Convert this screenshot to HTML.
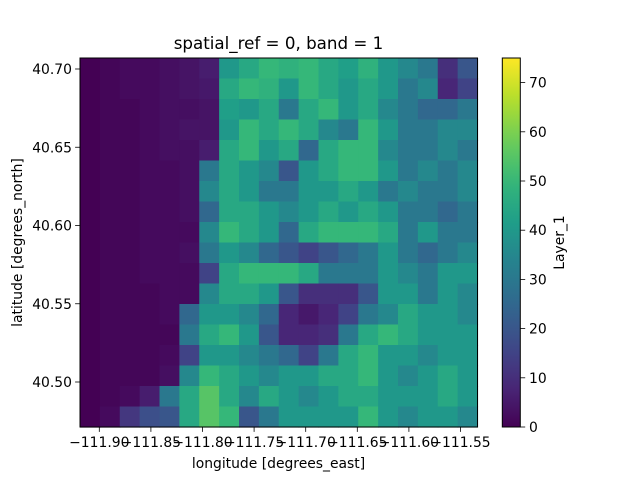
<!DOCTYPE html>
<html><head><meta charset="utf-8"><style>
body{margin:0;background:#fff;font-family:"Liberation Sans",sans-serif}
svg text{font-family:"DejaVu Sans","Liberation Sans",sans-serif;fill:#000}
</style></head><body>
<svg id="c" width="640" height="480" xmlns="http://www.w3.org/2000/svg">
<text x="278.5" y="49" font-size="16.7" text-anchor="middle">spatial_ref = 0, band = 1</text>
<g id="cells"></g>
<rect x="80" y="58" width="397.5" height="369" fill="none" stroke="#000" stroke-width="1"/>
<g id="ax"></g>
<text x="278.5" y="468" font-size="13.9" text-anchor="middle">longitude [degrees_east]</text>
<text transform="translate(22,242.5) rotate(-90)" font-size="13.9" text-anchor="middle">latitude [degrees_north]</text>
<defs><linearGradient id="vg" x1="0" y1="1" x2="0" y2="0"></linearGradient></defs>
<rect id="cbar" x="502.3" y="58" width="18" height="369" fill="url(#vg)" stroke="#000" stroke-width="1"/>
<g id="cb"></g>
<text transform="translate(564,242.5) rotate(-90)" font-size="13.9" text-anchor="middle">Layer_1</text>
</svg>
<script>
const xTicks=[-111.90,-111.85,-111.80,-111.75,-111.70,-111.65,-111.60,-111.55];
const xTickLabels=["\u2212111.90","\u2212111.85","\u2212111.80","\u2212111.75","\u2212111.70","\u2212111.65","\u2212111.60","\u2212111.55"];
const yTicks=[40.50,40.55,40.60,40.65,40.70];
const yTickLabels=["40.50","40.55","40.60","40.65","40.70"];
const cbTicks=[0,10,20,30,40,50,60,70];
const grid=[
[0,1,2,2,3,4,6,40,45,50,48,50,45,42,48,40,35,30,10,20],
[0,1,2,2,3,4,5,45,50,48,40,50,45,40,45,40,30,35,8,15],
[0,1,1,2,3,3,4,42,40,45,30,45,50,40,45,35,30,25,25,30],
[0,1,1,2,3,4,4,40,50,45,50,45,35,30,50,40,30,30,35,35],
[0,1,1,2,3,3,6,45,50,40,45,25,45,50,50,35,30,30,35,30],
[0,1,1,2,2,3,30,45,40,35,20,40,45,50,50,40,30,35,30,35],
[0,1,1,2,2,3,35,45,40,30,30,40,40,45,40,30,35,30,30,35],
[0,1,1,2,2,3,25,45,45,40,35,40,45,40,45,40,30,30,25,30],
[0,1,1,2,2,2,35,50,45,40,25,45,50,50,50,45,30,40,30,30],
[0,1,1,2,2,3,30,40,35,25,20,15,20,25,30,40,30,25,30,35],
[0,1,1,2,2,2,15,45,50,50,50,45,30,30,30,40,35,30,40,40],
[0,1,1,1,2,2,35,45,45,40,20,10,10,10,20,40,40,30,40,35],
[0,1,1,1,2,25,40,40,35,25,8,5,8,15,30,35,45,40,40,35],
[0,1,1,1,1,30,45,50,40,20,8,8,10,30,45,50,45,40,40,40],
[0,1,1,1,2,15,40,40,35,30,25,15,30,45,50,40,40,35,40,40],
[0,1,1,1,3,35,50,45,40,35,40,40,45,45,50,40,35,40,45,40],
[0,1,2,6,30,45,55,45,35,45,40,35,40,45,45,40,40,40,45,40],
[0,2,12,18,20,45,55,50,20,30,40,40,40,40,50,40,35,40,40,35]
];
const VMAX=75;
const stops=[[68,1,84],[72,40,120],[62,74,137],[49,104,142],[38,130,142],[31,158,137],[53,183,121],[109,205,89],[180,222,44],[253,231,37]];
function viridis(t){t=Math.max(0,Math.min(1,t));const f=t*(stops.length-1),i=Math.min(Math.floor(f),stops.length-2),r=f-i;
const a=stops[i],b=stops[i+1];return `rgb(${a.map((v,k)=>Math.round(v+(b[k]-v)*r)).join(',')})`;}
const NS="http://www.w3.org/2000/svg";
const X0=80,X1=477.5,Y0=58,Y1=427;
const xs=lon=>99.3+(lon+111.90)/0.05*51.6;
const ys=lat=>69+(40.70-lat)/0.05*78.25;
const cs=v=>Y1-(v/VMAX)*(Y1-Y0);
function mk(tag,attrs,parent){const e=document.createElementNS(NS,tag);for(const k in attrs)e.setAttribute(k,attrs[k]);parent.appendChild(e);return e;}
const cells=document.getElementById('cells');
const rows=grid.length,cols=grid[0].length,cw=(X1-X0)/cols,ch=(Y1-Y0)/rows;
grid.forEach((row,r)=>row.forEach((v,c)=>{
 const e=mk('rect',{x:X0+c*cw,y:Y0+r*ch,width:cw+0.6,height:ch+0.6,fill:viridis(v/VMAX)},cells);
 
 
}));
const ax=document.getElementById('ax');
xTicks.forEach((t,i)=>{const x=xs(t);
 mk('line',{x1:x,x2:x,y1:Y1,y2:Y1+4.9,stroke:'#000','stroke-width':0.8},ax);
 const e=mk('text',{x:x,y:Y1+20,'font-size':13.9,'text-anchor':'middle'},ax);e.textContent=xTickLabels[i];
 
 
});
yTicks.forEach((t,i)=>{const y=ys(t);
 mk('line',{x1:X0,x2:X0-4.9,y1:y,y2:y,stroke:'#000','stroke-width':0.8},ax);
 const e=mk('text',{x:X0-8,y:y+5,'font-size':13.9,'text-anchor':'end'},ax);e.textContent=yTickLabels[i];
 
 
});
const g=document.getElementById('vg');
for(let i=0;i<=20;i++){mk('stop',{offset:(i/20),'stop-color':viridis(i/20)},g);}
const cb=document.getElementById('cb');
cbTicks.forEach(t=>{const y=cs(t);
 mk('line',{x1:520.3,x2:525.2,y1:y,y2:y,stroke:'#000','stroke-width':0.8},cb);
 const e=mk('text',{x:529,y:y+5,'font-size':13.9},cb);e.textContent=t;
 
 
});
</script>
</body></html>
